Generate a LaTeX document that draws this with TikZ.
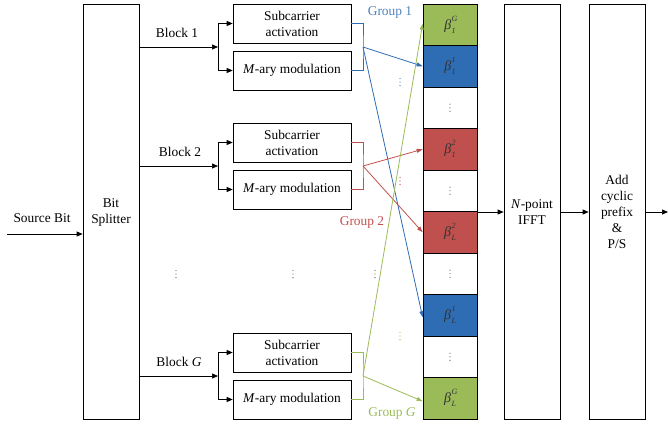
\documentclass[tikz,border=0pt]{standalone}
\usepackage{fontspec}
\setmainfont{Liberation Serif}
\usetikzlibrary{arrows.meta}
\definecolor{gblue}{HTML}{2E6DB4}
\definecolor{tblue}{HTML}{4F81BD}
\definecolor{gred}{HTML}{C0504D}
\definecolor{ggreen}{HTML}{9BBB59}
\newcommand\bsym[2]{\textit{β}\hspace{0.5pt}\rlap{\raisebox{0.55em}{\fontsize{8}{8}\selectfont\textit{#2}}}\raisebox{-0.3em}{\fontsize{8}{8}\selectfont\textit{#1}}\hspace{3pt}}
\tikzset{
  vdts/.pic={\fill[pic actions] (0,-3.6) circle (0.65) (0,0) circle (0.65) (0,3.6) circle (0.65);}
}
\begin{document}
\begin{tikzpicture}[x=1pt,y=-1pt,
  font=\fontsize{13.4}{16}\selectfont,
  line width=0.7pt,
  arr/.style={-{Triangle[length=6pt,width=5pt]}},
  carr/.style={-{Triangle[length=6pt,width=4pt]}, line width=0.8pt},
  tall/.style={draw, minimum width=56pt, minimum height=415pt, inner sep=0pt, align=center},
  box/.style={draw, minimum width=118pt, minimum height=39pt, inner sep=0pt, align=center},
  cell/.style={draw, minimum width=54pt, minimum height=41.5pt, inner sep=0pt, text=black!80, font=\fontsize{14}{14}\selectfont},
]
\useasboundingbox (0,0) rectangle (668,426);

% big blocks
\node[tall] (bs) at (111,212) {Bit\\Splitter};
\node[tall] (ifft) at (532,212) {\textit{N}-point\\IFFT};
\node[tall] (cp) at (617,212) {Add\\cyclic\\prefix\\\&\\P/S};

% source
\coordinate (src) at (7,234);
\node (srclbl) at (42,218) {Source Bit};
\draw[arr] (src) -- (bs.west |- src);

% blocks
\node[box] (sa1) at (292,23.5) {Subcarrier\\activation};
\node[box] (mm1) at (292,70.5) {\textit{M}-ary modulation};
\node[box] (sa2) at (292,142.5) {Subcarrier\\activation};
\node[box] (mm2) at (292,189.5) {\textit{M}-ary modulation};
\node[box] (saG) at (292,352.5) {Subcarrier\\activation};
\node[box] (mmG) at (292,399.5) {\textit{M}-ary modulation};

\coordinate (j1) at (218,47);
\coordinate (j2) at (218,166);
\coordinate (jG) at (218,376);
\node (b1) at (177,33) {Block 1};
\node (b2) at (180,152) {Block 2};
\node (bG) at (179,362) {Block \textit{G}};

\foreach \j/\s/\m in {j1/sa1/mm1, j2/sa2/mm2, jG/saG/mmG}{
  \draw[arr] (bs.east |- \j) -- (\j);
  \draw (\j |- \s) -- (\j |- \m);
  \draw[arr] (\j |- \s) -- (\s.west);
  \draw[arr] (\j |- \m) -- (\m.west);
}

% cells
\node[cell, fill=ggreen] (c1) at (450,24.75) {\bsym{1}{G}};
\node[cell, fill=gblue] (c2) at (450,66.25) {\bsym{1}{1}};
\node[cell] (c3) at (450,107.75) {};
\node[cell, fill=gred] (c4) at (450,149.25) {\bsym{1}{2}};
\node[cell] (c5) at (450,190.75) {};
\node[cell, fill=gred] (c6) at (450,232.25) {\bsym{L}{2}};
\node[cell] (c7) at (450,273.75) {};
\node[cell, fill=gblue] (c8) at (450,315.25) {\bsym{L}{1}};
\node[cell] (c9) at (450,356.75) {};
\node[cell, fill=ggreen] (c10) at (450,398.25) {\bsym{L}{G}};
\foreach \c in {c3,c5,c7,c9}{\pic[black!55] at (\c) {vdts};}

% group connectors
\coordinate (g1) at (363,47);
\coordinate (g2) at (363,166);
\coordinate (gG) at (363,376);
\draw[gblue, line width=0.8pt] (sa1.east) -| (g1) |- (mm1.east);
\draw[gred, line width=0.8pt] (sa2.east) -| (g2) |- (mm2.east);
\draw[ggreen, line width=0.8pt] (saG.east) -| (gG) |- (mmG.east);
\draw[carr, gblue] (g1) -- (c2.west);
\draw[carr, gblue] (g1) -- ([yshift=-2pt]c8.west);
\draw[carr, gred] (g2) -- (c4.west);
\draw[carr, gred] (g2) -- (c6.west);
\draw[carr, ggreen] (gG) -- ([yshift=1pt]c1.west);
\draw[carr, ggreen] (gG) -- ([yshift=-3pt]c10.west);

\node[text=tblue] (gl1) at (390,12) {Group 1};
\node[text=gred] (gl2) at (362,222) {Group 2};
\node[text=ggreen] (glG) at (392,413) {Group \textit{G}};

% dots
\pic[black!55] at (176,274) {vdts};
\pic[black!55] at (293,274) {vdts};
\pic[black!55] at (375,274) {vdts};
\pic[tblue] at (400,82) {vdts};
\pic[gred] at (400,181) {vdts};
\pic[ggreen] at (400,336) {vdts};

% outputs
\coordinate (out) at (668,212);
\draw[arr] (c5.east |- out) -- (ifft.west |- out);
\draw[arr] (ifft.east |- out) -- (cp.west |- out);
\draw[arr] (cp.east |- out) -- (out);
\end{tikzpicture}
\end{document}
